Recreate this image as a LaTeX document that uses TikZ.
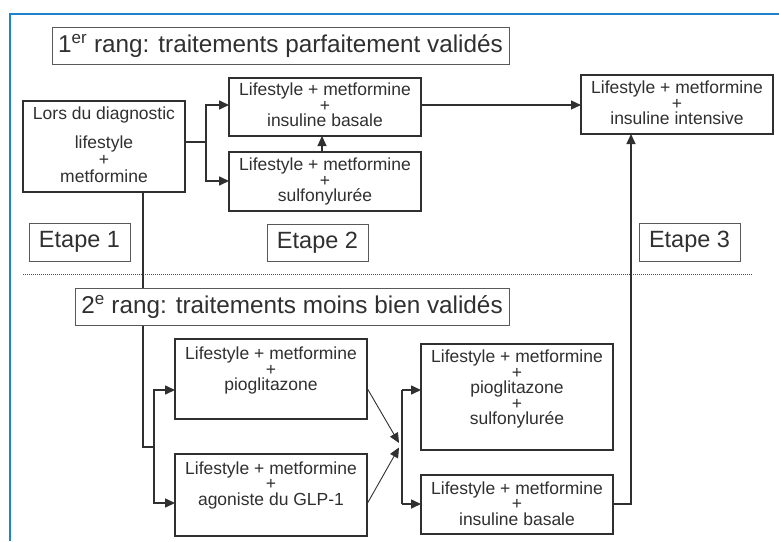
\documentclass[tikz,border=0pt]{standalone}
\usepackage{fontspec}
\setmainfont{Liberation Sans}
\usetikzlibrary{arrows.meta}
\definecolor{ink}{HTML}{303030}
\definecolor{frameblue}{HTML}{1E82CC}
\tikzset{
  box/.style={draw=ink, line width=1.3pt, fill=white, inner sep=0pt, outer sep=0pt, anchor=north west},
  tbox/.style={draw=ink!80, line width=0.8pt, fill=white, inner sep=0pt, outer sep=0pt, anchor=north west, text=ink},
  txt/.style={text=ink, inner sep=0pt, align=center, anchor=north, font=\fontsize{17.5}{15.5}\selectfont},
  conn/.style={draw=ink, line width=1.6pt},
  arr/.style={draw=ink, line width=1.6pt, -{Triangle[length=10pt,width=9pt]}},
  thinarr/.style={draw=ink, line width=1.1pt, -{Triangle[length=10pt,width=9pt]}},
}
\begin{document}
\begin{tikzpicture}[x=1pt,y=-1pt]
\useasboundingbox (0,0) rectangle (779,541);
% frame
\draw[frameblue, line width=2pt] (10,541) -- (10,13.5) -- (779,13.5);
% dotted separator
\draw[ink!85, line width=0.9pt, dash pattern=on 0.9pt off 1.1pt] (23,274) -- (752,274);
% first-rank boxes
\node[box, minimum width=162pt, minimum height=91pt] (lors) at (23,101) {};
\node[txt, font=\fontsize{17.5}{17}\selectfont] (lorst) at (104,107) {Lors du diagnostic\\[12pt]lifestyle\\+\\metformine};
\node[box, minimum width=192pt, minimum height=58pt] (b1) at (229,78) {};
\node[txt] (b1t) at (325,83) {Lifestyle + metformine\\+\\insuline basale};
\node[box, minimum width=192pt, minimum height=59pt] (b2) at (229,152) {};
\node[txt] (b2t) at (325,158) {Lifestyle + metformine\\+\\sulfonylurée};
\node[box, minimum width=192pt, minimum height=59pt] (b3) at (581,75) {};
\node[txt] (b3t) at (677,81) {Lifestyle + metformine\\+\\insuline intensive};
% second-rank boxes
\node[box, minimum width=192pt, minimum height=80pt] (p1) at (175,339) {};
\node[txt] (p1t) at (271,347) {Lifestyle + metformine\\+\\pioglitazone};
\node[box, minimum width=192pt, minimum height=82pt] (p2) at (175,454) {};
\node[txt] (p2t) at (271,461.5) {Lifestyle + metformine\\+\\agoniste du GLP-1};
\node[box, minimum width=192pt, minimum height=106pt] (q1) at (421,344) {};
\node[txt] (q1t) at (517,350) {Lifestyle + metformine\\+\\pioglitazone\\+\\sulfonylurée};
\node[box, minimum width=192pt, minimum height=59pt] (q2) at (421,475) {};
\node[txt] (q2t) at (517,481.5) {Lifestyle + metformine\\+\\insuline basale};
% connectors, first rank
\coordinate (j1) at (206,142);
\draw[conn] (lors.east |- j1) -- (j1);
\draw[arr] (j1) |- (b1.west |- 0,105);
\draw[arr] (j1) |- (b2.west |- 0,181);
\draw[thinarr] (b2.north -| 322,0) -- (b1.south -| 322,0);
\draw[thinarr] (b1.east |- 0,105) -- (b3.west |- 0,105);
% connectors, second rank
\coordinate (j2) at (143,447);
\coordinate (j3) at (154,447);
\draw[thinarr, -] (lors.south -| j2) -- (j2) -- (j3);
\draw[arr] (j3) |- (p1.west |- 0,390);
\draw[arr] (j3) |- (p2.west |- 0,503);
\coordinate (m) at (402,445);
\draw[thinarr, line width=0.9pt] (p1.east |- 0,388) -- (399,443);
\draw[thinarr, line width=0.9pt] (p2.east |- 0,504) -- (399,447.5);
\draw[conn] (m |- 0,390) -- (m |- 0,504);
\draw[arr] (m |- 0,390) -- (q1.west |- 0,390);
\draw[arr] (m |- 0,504) -- (q2.west |- 0,504);
\coordinate (k) at (631,504);
\draw[thinarr, line width=1.3pt] (q2.east |- k) -- (k) -- (k |- b3.south);
% title and step boxes (white, over lines)
\node[tbox, minimum width=457pt, minimum height=37pt, font=\fontsize{24.3}{26}\selectfont] (r1) at (52,27) {1\textsuperscript{er} rang: traitements parfaitement validés};
\node[tbox, minimum width=434pt, minimum height=37pt, font=\fontsize{24.3}{26}\selectfont] (r2) at (75,288) {2\textsuperscript{e} rang: traitements moins bien validés};
\node[tbox, minimum width=101pt, minimum height=38pt, font=\fontsize{23.5}{25}\selectfont] (e1) at (29,223) {Etape 1};
\node[tbox, minimum width=101pt, minimum height=37pt, font=\fontsize{23.5}{25}\selectfont] (e2) at (267,224) {Etape 2};
\node[tbox, minimum width=101pt, minimum height=38pt, font=\fontsize{23.5}{25}\selectfont] (e3) at (639,223) {Etape 3};
\end{tikzpicture}
\end{document}
